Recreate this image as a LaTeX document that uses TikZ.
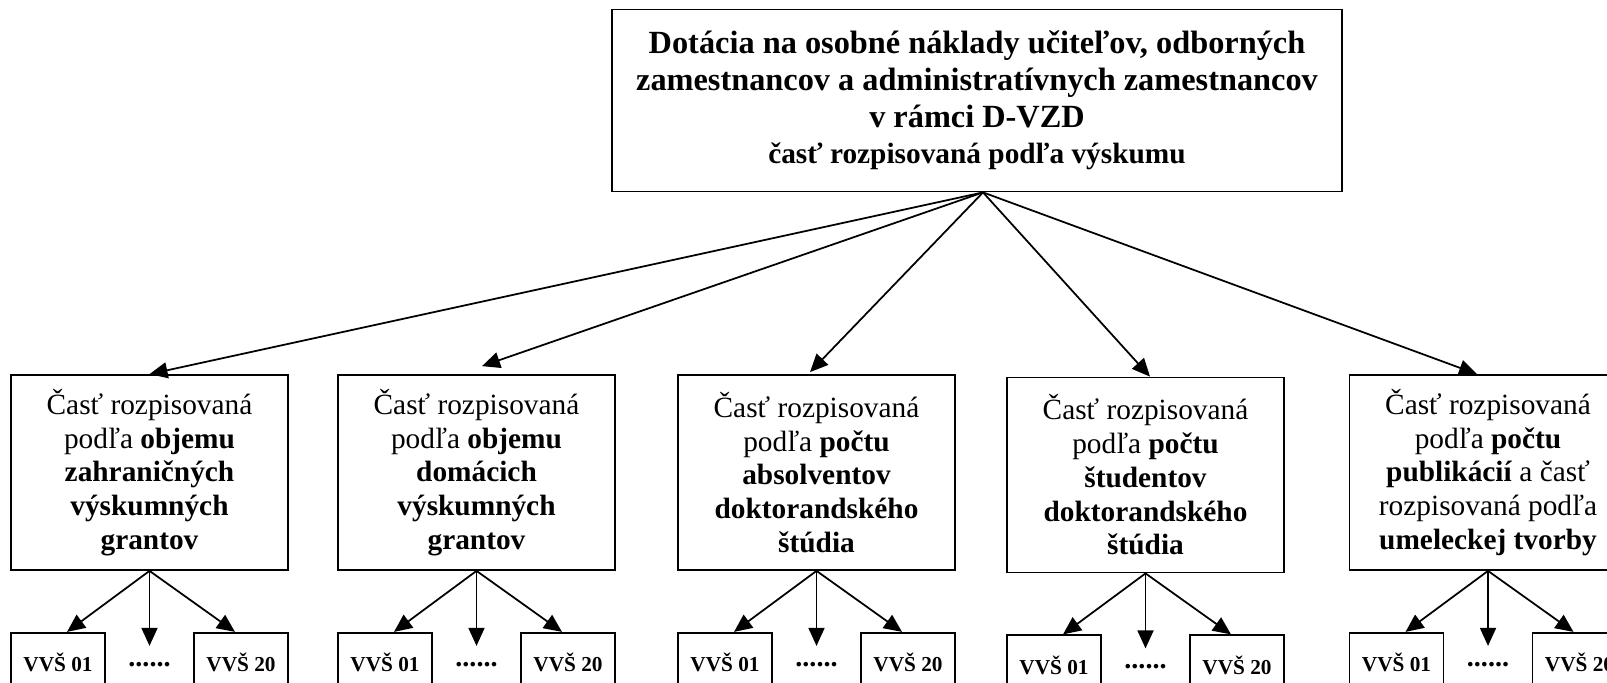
\documentclass[tikz,border=0pt]{standalone}
\usepackage{fontspec}
\setmainfont{Liberation Serif}
\usetikzlibrary{positioning,arrows.meta}

\tikzset{
  bigbox/.style={draw,line width=1pt,minimum width=14.6cm,minimum height=3.64cm,
    align=center,font=\bfseries\fontsize{18.4}{20.8}\selectfont},
  partbox/.style={draw,line width=1pt,minimum width=5.54cm,minimum height=3.9cm,
    align=center,font=\fontsize{16.7}{19.2}\selectfont},
  vvs/.style={draw,line width=1pt,minimum width=1.88cm,minimum height=1.2cm,
    inner sep=0pt,font=\bfseries\fontsize{12.1}{14}\selectfont},
  dotsn/.style={inner sep=0pt,text height=11.5pt,text depth=0pt,
    font=\bfseries\fontsize{16}{18}\selectfont},
  arr/.style={line width=1pt,-{Triangle[length=3.6mm,width=3.2mm]}}
}

\begin{document}
\begin{tikzpicture}

  \useasboundingbox (0,0) rectangle (32.14,-13.64);

  \node[bigbox] (top) at (19.54,-2.01)
    {Dotácia na osobné náklady učiteľov, odborných\\
     zamestnancov a administratívnych zamestnancov\\
     v rámci D-VZD\\
     {\fontsize{16.7}{20.8}\selectfont časť rozpisovaná podľa výskumu}};
  \coordinate (src) at ([xshift=0.12cm]top.south);

  \node[partbox] (b1) at (2.99,-9.45)
    {Časť rozpisovaná\\ podľa \textbf{objemu}\\ \textbf{zahraničných}\\
     \textbf{výskumných}\\ \textbf{grantov}};
  \node[partbox] (b2) at (9.53,-9.45)
    {Časť rozpisovaná\\ podľa \textbf{objemu}\\ \textbf{domácich}\\
     \textbf{výskumných}\\ \textbf{grantov}};
  \node[partbox] (b3) at (16.33,-9.45)
    {Časť rozpisovaná\\ podľa \textbf{počtu}\\ \textbf{absolventov}\\
     \textbf{doktorandského}\\ \textbf{štúdia}};
  \node[partbox] (b4) at (22.91,-9.50)
    {Časť rozpisovaná\\ podľa \textbf{počtu}\\ \textbf{študentov}\\
     \textbf{doktorandského}\\ \textbf{štúdia}};
  \node[partbox] (b5) at (29.76,-9.45)
    {Časť rozpisovaná\\ podľa \textbf{počtu}\\ \textbf{publikácií} a časť\\
     rozpisovaná podľa\\ \textbf{umeleckej tvorby}};

  \foreach \b/\dx/\dy in {b1/0/0,b2/0.11/0.16,b3/-0.13/0.04,b4/0.09/0,b5/-0.22/0}{
    \draw[arr] (src) -- ([xshift=\dx cm,yshift=\dy cm]\b.north);
  }

  \foreach \b in {b1,b2,b3,b4,b5}{
    \node[vvs,below right=1.22cm and 0cm of \b.south west] (\b-l) {VVŠ 01};
    \node[vvs,below left=1.22cm and 0cm of \b.south east] (\b-r) {VVŠ 20};
    \node[dotsn,below=1.5cm of \b.south] (\b-d) {......};

    \draw[arr] (\b.south) -- ([xshift=0.18cm]\b-l.north);
    \draw[arr] (\b.south) -- (\b-d.north);
    \draw[arr] (\b.south) -- ([xshift=-0.12cm]\b-r.north);
  }

\end{tikzpicture}
\end{document}
